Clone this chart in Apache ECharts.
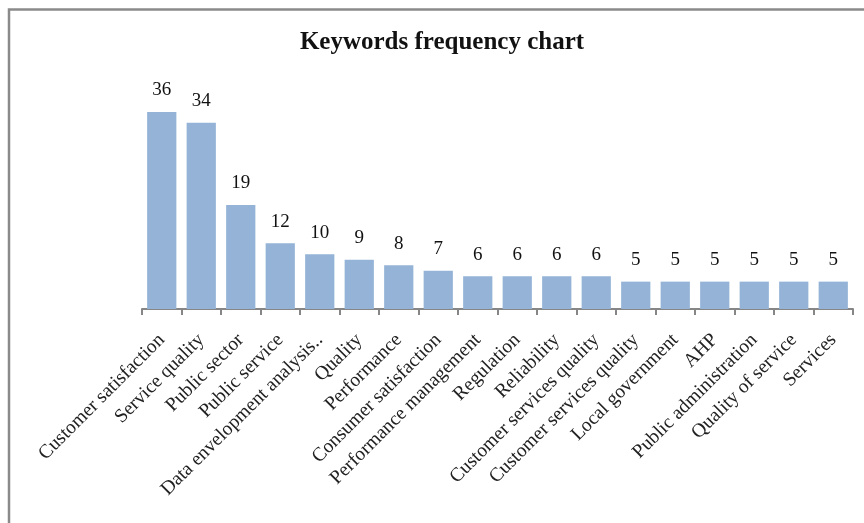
<!DOCTYPE html>
<html>
<head>
<meta charset="utf-8">
<script src="https://cdn.jsdelivr.net/npm/echarts@6/dist/echarts.min.js"></script>
<style>
  html, body { margin: 0; padding: 0; background: #fff; }
  #chart { width: 864px; height: 523px; }
</style>
</head>
<body>
<div id="chart"></div>
<script>
// Keyword occurrence counts
const keywords = [
  'Customer satisfaction', 'Service quality', 'Public sector', 'Public service',
  'Data envelopment analysis..', 'Quality', 'Performance', 'Consumer satisfaction',
  'Performance management', 'Regulation', 'Reliability', 'Customer services quality',
  'Customer services quality', 'Local government', 'AHP', 'Public administration',
  'Quality of service', 'Services'
];
const frequencies = [36, 34, 19, 12, 10, 9, 8, 7, 6, 6, 6, 6, 5, 5, 5, 5, 5, 5];

const chart = echarts.init(document.getElementById('chart'), null, { renderer: 'canvas' });
const serif = '"Liberation Serif", "Times New Roman", serif';

chart.setOption({
  animation: false,
  backgroundColor: '#ffffff',
  title: {
    text: 'Keywords frequency chart',
    left: 437,
    textAlign: 'center',
    top: 25,
    textStyle: { fontFamily: serif, fontWeight: 'bold', fontSize: 25, color: '#111' }
  },
  graphic: [{
    type: 'rect',
    shape: { x: 9, y: 9.5, width: 900, height: 600 },
    style: { fill: 'none', stroke: '#8a8a8a', lineWidth: 2.5 },
    silent: true
  }],
  grid: { left: 142, right: 11, top: 90, bottom: 214, containLabel: false },
  xAxis: {
    type: 'category',
    data: keywords,
    axisLine: { lineStyle: { color: '#868686', width: 2 } },
    axisTick: { show: true, length: 6, lineStyle: { color: '#868686', width: 2 } },
    axisLabel: {
      rotate: 45,
      interval: 0,
      margin: 28,
      fontFamily: serif,
      fontSize: 19.5,
      color: '#222'
    }
  },
  yAxis: {
    type: 'value',
    min: 0,
    max: 40,
    show: false,
    splitLine: { show: false }
  },
  series: [{
    type: 'bar',
    data: frequencies,
    barCategoryGap: '26%',
    itemStyle: { color: '#95b3d7' },
    label: {
      show: true,
      position: 'top',
      distance: 12,
      fontFamily: serif,
      fontSize: 19,
      color: '#111'
    }
  }]
});
</script>
</body>
</html>
